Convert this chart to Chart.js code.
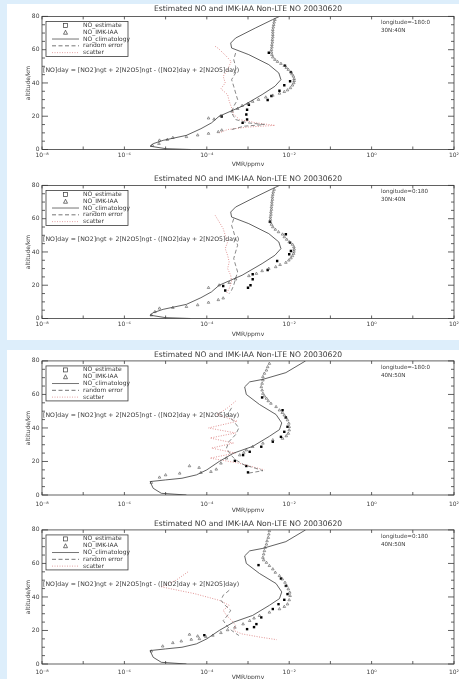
<!DOCTYPE html>
<html>
<head>
<meta charset="utf-8">
<script src="https://cdn.jsdelivr.net/npm/chart.js@4.4.1/dist/chart.umd.min.js"></script>
<style>
  body { margin: 0; width: 459px; height: 679px; overflow: hidden; position: relative; background: #ddeefb; }
  .sheet { position: absolute; left: 7px; width: 452px; background: #fff; }
  .box { position: absolute; left: 7px; width: 452px; }
</style>
</head>
<body>
<div class="sheet" style="top:4px;height:336px"></div>
<div class="sheet" style="top:350px;height:329px"></div>
<div class="box" id="b0" style="top:4px;height:166px"><canvas id="c0"></canvas></div>
<div class="box" id="b1" style="top:174px;height:166px"><canvas id="c1"></canvas></div>
<div class="box" id="b2" style="top:350px;height:168px"><canvas id="c2"></canvas></div>
<div class="box" id="b3" style="top:518px;height:161px"><canvas id="c3"></canvas></div>
<script>
// ---- texts ----
const titleText = "Estimated NO and IMK-IAA Non-LTE NO 20030620";
const equationText = "[NO]day = [NO2]ngt + 2[N2O5]ngt - ([NO2]day + 2[N2O5]day)";
const legendLabels = ["NO_estimate", "NO_IMK-IAA", "NO_climatology", "random error", "scatter"];
const longitudeLabels = ["longitude=-180:0", "longitude=0:180", "longitude=-180:0", "longitude=0:180"];
const latitudeLabels = ["30N:40N", "30N:40N", "40N:50N", "40N:50N"];

// ---- ticks ----
const xTickValues = [1e-8, 1e-7, 1e-6, 1e-5, 1e-4, 1e-3, 1e-2, 1e-1, 1e0, 1e1, 1e2];
const xTickLabels = ["10⁻⁸", "", "10⁻⁶", "", "10⁻⁴", "", "10⁻²", "", "10⁰", "", "10²"];
const yTickLabels = ["0", "20", "40", "60", "80"];

// ---- climatology (ppmv) ----
const climAlt30 = [0, 0.5, 2, 3.5, 5.5, 8.5, 12.5, 16, 20, 26, 33, 38, 42, 46, 51, 57, 61, 64, 67, 73, 78, 80];
const climVmr30 = [4.0e-5, 1.0e-5, 4.2e-6, 5.0e-6, 8.7e-6, 3.2e-5, 7.2e-5, 1.3e-4, 2.0e-4, 7.2e-4, 2.2e-3, 4.5e-3, 6.3e-3, 5.6e-3, 3.2e-3, 1.05e-3, 4.0e-4, 3.8e-4, 5.0e-4, 1.5e-3, 3.9e-3, 5.8e-3];
const climAlt40 = [0, 1, 4, 8, 9, 10, 12, 15, 20, 25, 29, 35, 39, 43, 48, 54, 60, 64.5, 67.5, 69, 73, 80];
const climVmr40 = [3.2e-5, 7.9e-6, 5.0e-6, 4.2e-6, 1.0e-5, 2.5e-5, 5.6e-5, 1.0e-4, 2.0e-4, 4.5e-4, 1.3e-3, 3.3e-3, 5.8e-3, 6.6e-3, 4.8e-3, 1.9e-3, 9.1e-4, 8.3e-4, 1.1e-3, 2.3e-3, 8.3e-3, 2.5e-2];

// ---- panel 1: 30N:40N, lon -180:0 ----
const imkAlt1 = [2.4, 3.5, 5.5, 5.9, 7.1, 7.6, 8.6, 9.6, 10.6, 11.6, 18.2, 18.8, 20.2, 22.9, 24.5, 26.3, 27.5, 28.8, 30, 31.4, 32.5, 33.7, 34.7, 35.7, 37, 38.6, 40, 41.3, 42.5, 44, 45.3, 46.5, 48, 49.2, 50.4, 51.6, 52.8, 54, 55.5, 57, 58.5, 60, 61.5, 63, 64.5, 66, 67.5, 69, 70.5, 72, 73.5, 75, 76.5, 78];
const imkVmr1 = [4.8e-6, 6.9e-6, 7.1e-6, 1.1e-5, 1.5e-5, 3.2e-5, 6.0e-5, 1.1e-4, 1.9e-4, 2.3e-4, 1.5e-4, 1.1e-4, 2.2e-4, 4.1e-4, 5.6e-4, 7.2e-4, 1.0e-3, 1.3e-3, 1.8e-3, 2.7e-3, 4.0e-3, 5.8e-3, 7.6e-3, 9.1e-3, 1.07e-2, 1.2e-2, 1.29e-2, 1.32e-2, 1.32e-2, 1.26e-2, 1.17e-2, 1.1e-2, 9.5e-3, 8.5e-3, 7.6e-3, 6.3e-3, 5.2e-3, 4.5e-3, 4.0e-3, 3.8e-3, 3.7e-3, 3.7e-3, 3.8e-3, 3.8e-3, 3.9e-3, 3.9e-3, 4.0e-3, 4.0e-3, 4.0e-3, 4.0e-3, 4.1e-3, 4.2e-3, 4.3e-3, 4.5e-3];
const estAlt1 = [16, 18, 19.8, 21, 23.9, 26.9, 29.8, 32.2, 35.3, 38.6, 41, 46.5, 50.4, 58.2];
const estVmr1 = [7.4e-4, 9.5e-4, 2.3e-4, 9.1e-4, 9.5e-4, 1.05e-3, 3.0e-3, 3.7e-3, 5.8e-3, 7.6e-3, 1.05e-2, 1.1e-2, 7.9e-3, 3.2e-3];
const errAlt1 = [58, 54, 50, 46, 42, 38, 34, 30, 26, 22, 18, 16, 15, 14, 12];
const errVmr1 = [5.0e-4, 4.5e-4, 5.0e-4, 5.0e-4, 4.0e-4, 4.5e-4, 5.0e-4, 5.6e-4, 4.5e-4, 4.0e-4, 5.0e-4, 1.0e-3, 2.5e-3, 8.0e-4, 4.0e-4];
const scatAlt1 = [62, 60.8, 56, 52.9, 48, 44, 40, 36.5, 33, 29, 25, 21, 18, 16, 14.5, 13.5, 12, 10];
const scatVmr1 = [1.6e-4, 1.9e-4, 3.0e-4, 3.9e-4, 3.2e-4, 2.5e-4, 2.8e-4, 2.2e-4, 3.2e-4, 3.5e-4, 4.0e-4, 4.5e-4, 6.3e-4, 1.6e-3, 4.5e-3, 1.0e-3, 3.2e-4, 2.0e-4];

// ---- panel 2: 30N:40N, lon 0:180 ----
const imkAlt2 = [2.0, 4.0, 6.1, 6.5, 7.1, 8.1, 9.6, 11.2, 12.2, 18.5, 20, 21.5, 23.6, 25.6, 27, 28.6, 30, 31, 32.3, 33.6, 35, 36.3, 37.6, 39, 40.3, 41.6, 43, 44.5, 46, 47.5, 49, 50.6, 52, 53.5, 55, 56.5, 58, 59.5, 61, 62.5, 64, 65.5, 67, 68.5, 70, 71.5, 73, 74.5, 76, 77.5];
const imkVmr2 = [4.5e-6, 5.5e-6, 7.1e-6, 1.5e-5, 3.2e-5, 6.0e-5, 1.1e-4, 1.9e-4, 2.5e-4, 1.1e-4, 2.0e-4, 3.5e-4, 5.0e-4, 1.05e-3, 1.6e-3, 2.2e-3, 3.2e-3, 4.7e-3, 6.0e-3, 8.3e-3, 9.8e-3, 1.1e-2, 1.2e-2, 1.28e-2, 1.3e-2, 1.32e-2, 1.3e-2, 1.2e-2, 1.0e-2, 8.7e-3, 7.6e-3, 6.9e-3, 5.5e-3, 4.6e-3, 4.0e-3, 3.7e-3, 3.5e-3, 3.5e-3, 3.5e-3, 3.6e-3, 3.6e-3, 3.7e-3, 3.7e-3, 3.8e-3, 3.8e-3, 3.9e-3, 3.9e-3, 4.0e-3, 4.1e-3, 4.3e-3];
const estAlt2 = [16.8, 18.5, 19.5, 20, 23.6, 26.6, 29.2, 34.6, 38.6, 40.6, 45.6, 50.6, 58.2];
const estVmr2 = [2.8e-4, 1.0e-3, 2.5e-4, 1.15e-3, 1.3e-3, 1.3e-3, 3.0e-3, 5.1e-3, 1.0e-2, 1.1e-2, 1.05e-2, 8.3e-3, 3.4e-3];
const errAlt2 = [60, 56, 52, 48, 44, 40, 36, 32, 28, 24, 20, 17, 15];
const errVmr2 = [4.5e-4, 4.0e-4, 4.5e-4, 5.0e-4, 5.6e-4, 5.0e-4, 4.5e-4, 5.0e-4, 5.6e-4, 5.0e-4, 4.5e-4, 4.0e-4, 3.5e-4];
const scatAlt2 = [62, 58, 54, 50, 46, 42, 38, 34, 30, 26, 22, 18, 15];
const scatVmr2 = [1.6e-4, 2.0e-4, 2.5e-4, 2.8e-4, 3.2e-4, 2.8e-4, 3.2e-4, 3.5e-4, 3.2e-4, 3.8e-4, 4.0e-4, 3.5e-4, 3.0e-4];

// ---- panel 3: 40N:50N, lon -180:0 ----
const imkAlt3 = [7.4, 10.5, 11.9, 12.9, 13.3, 13.9, 15.3, 16.3, 17.3, 18.9, 21.9, 23.8, 25.3, 26.8, 28.8, 30.8, 32.8, 33.7, 35.2, 36.7, 38.7, 40.7, 42.7, 44.7, 46.2, 47.6, 49.1, 50.6, 52.6, 54.6, 56.1, 57.6, 59, 60.5, 62.5, 64.5, 66.5, 68.5, 70.5, 72.5, 74.4, 76.4, 78.4];
const imkVmr3 = [4.5e-6, 7.1e-6, 1.0e-5, 2.2e-5, 7.2e-5, 1.26e-4, 1.7e-4, 6.5e-5, 3.8e-5, 2.2e-4, 3.0e-4, 6.3e-4, 7.9e-4, 9.1e-4, 1.3e-3, 2.3e-3, 4.0e-3, 6.9e-3, 8.5e-3, 9.5e-3, 1.0e-2, 1.0e-2, 9.8e-3, 9.1e-3, 8.3e-3, 7.6e-3, 6.8e-3, 5.8e-3, 4.8e-3, 3.6e-3, 3.1e-3, 2.8e-3, 2.5e-3, 2.3e-3, 2.2e-3, 2.1e-3, 2.2e-3, 2.3e-3, 2.3e-3, 2.5e-3, 2.8e-3, 3.0e-3, 3.3e-3];
const estAlt3 = [13.5, 17.3, 20.4, 23.8, 25.8, 28.8, 31.8, 34.7, 37.7, 40.7, 46.3, 50.6, 58.2];
const estVmr3 = [1.0e-3, 9.1e-4, 4.8e-4, 7.6e-4, 1.1e-3, 2.1e-3, 4.0e-3, 6.3e-3, 7.6e-3, 9.1e-3, 8.3e-3, 6.9e-3, 2.2e-3];
const errAlt3 = [52, 48, 44, 40, 36, 32, 28, 24, 21, 18, 16, 14.5, 13];
const errVmr3 = [4.0e-4, 3.2e-4, 4.5e-4, 6.0e-4, 5.0e-4, 3.5e-4, 3.0e-4, 3.8e-4, 5.0e-4, 8.0e-4, 1.5e-3, 2.3e-3, 1.0e-3];
const scatAlt3 = [56, 52, 48, 44, 40, 37, 34, 31, 28, 25, 22, 19, 17, 15];
const scatVmr3 = [5.0e-4, 3.2e-4, 1.8e-4, 5.5e-4, 1.1e-4, 5.0e-4, 1.2e-4, 4.5e-4, 1.3e-4, 5.0e-4, 1.2e-4, 6.0e-4, 1.2e-3, 2.5e-3];

// ---- panel 4: 40N:50N, lon 0:180 ----
const imkAlt4 = [7.6, 10.6, 12.6, 13.6, 14.6, 15, 16.2, 16.6, 17, 17.6, 18.6, 20.3, 21.8, 23.8, 25.8, 27.3, 28.8, 30.8, 32.8, 34.2, 35.7, 38.2, 40.7, 42.7, 44.7, 46.7, 48.6, 50.6, 52.6, 54.6, 56.6, 58.6, 60.5, 62, 63.5, 65.5, 67.5, 69.5, 71.4, 73.4, 75.4, 77.4, 79.4];
const imkVmr4 = [4.5e-6, 8.5e-6, 1.5e-5, 2.4e-5, 4.2e-5, 6.6e-5, 9.5e-5, 6.0e-5, 1.4e-4, 3.8e-5, 2.2e-4, 3.2e-4, 4.8e-4, 7.6e-4, 1.1e-3, 1.4e-3, 1.9e-3, 3.3e-3, 5.8e-3, 7.6e-3, 9.1e-3, 1.0e-2, 1.05e-2, 1.03e-2, 9.5e-3, 8.7e-3, 7.9e-3, 6.8e-3, 5.8e-3, 4.6e-3, 4.0e-3, 3.3e-3, 2.8e-3, 2.4e-3, 2.3e-3, 2.4e-3, 2.5e-3, 2.6e-3, 2.8e-3, 2.9e-3, 3.1e-3, 3.2e-3, 3.3e-3];
const estAlt4 = [17.2, 20.8, 22, 23.8, 27.8, 32.8, 35.7, 38.3, 41.7, 46.6, 51, 59];
const estVmr4 = [8.7e-5, 9.5e-4, 1.4e-3, 1.6e-3, 2.1e-3, 4.0e-3, 5.5e-3, 7.6e-3, 9.1e-3, 8.3e-3, 6.3e-3, 1.8e-3];
const errAlt4 = [44, 41, 38, 35, 32, 29, 26, 23, 20, 17];
const errVmr4 = [3.5e-4, 2.5e-4, 2.2e-4, 2.8e-4, 3.8e-4, 3.2e-4, 2.5e-4, 3.0e-4, 4.0e-4, 6.0e-4];
const scatAlt4 = [55, 50, 46, 42, 38, 35, 32, 29, 26, 23, 20, 18, 16, 14.5];
const scatVmr4 = [3.5e-5, 1.8e-5, 8.0e-6, 5.0e-5, 2.0e-4, 3.5e-4, 2.5e-4, 3.0e-4, 4.0e-4, 5.0e-4, 4.5e-4, 7.0e-4, 2.0e-3, 5.0e-3];

// ---- panel frames (canvas px) ----
const panels = [
  { id: "c0", H: 166, top: 12.5, bottom: 145.5, titleY: 5, tickY: 151.5, vmrY: 160,
    est: [estAlt1, estVmr1], imk: [imkAlt1, imkVmr1], clim: [climAlt30, climVmr30], err: [errAlt1, errVmr1], scat: [scatAlt1, scatVmr1] },
  { id: "c1", H: 166, top: 11.5, bottom: 144.5, titleY: 5, tickY: 150, vmrY: 160,
    est: [estAlt2, estVmr2], imk: [imkAlt2, imkVmr2], clim: [climAlt30, climVmr30], err: [errAlt2, errVmr2], scat: [scatAlt2, scatVmr2] },
  { id: "c2", H: 168, top: 11, bottom: 145, titleY: 5, tickY: 154, vmrY: 160,
    est: [estAlt3, estVmr3], imk: [imkAlt3, imkVmr3], clim: [climAlt40, climVmr40], err: [errAlt3, errVmr3], scat: [scatAlt3, scatVmr3] },
  { id: "c3", H: 161, top: 12, bottom: 146, titleY: 6, tickY: 154, vmrY: 159,
    est: [estAlt4, estVmr4], imk: [imkAlt4, imkVmr4], clim: [climAlt40, climVmr40], err: [errAlt4, errVmr4], scat: [scatAlt4, scatVmr4] },
];

const FONT = "DejaVu Sans";
const INK = "#3a3a3a";
const RED = "#d97a7a";

function pts(alt, vmr) {
  return alt.map((a, i) => ({ x: vmr[i], y: a }));
}

// 框线、内向刻度、图例、标注
const panelDecor = {
  id: "panelDecor",
  afterDatasetsDraw(chart, args, opts) {
    const { ctx, chartArea: a, scales: { x, y } } = chart;
    ctx.save();
    ctx.strokeStyle = INK;
    ctx.lineWidth = 0.8;
    ctx.strokeRect(a.left, a.top, a.right - a.left, a.bottom - a.top);
    ctx.beginPath();
    x.ticks.forEach((t) => {
      const px = x.getPixelForValue(t.value);
      ctx.moveTo(px, a.bottom); ctx.lineTo(px, a.bottom - 3);
      ctx.moveTo(px, a.top); ctx.lineTo(px, a.top + 3);
    });
    y.ticks.forEach((t) => {
      const py = y.getPixelForValue(t.value);
      const len = t.value % 20 === 0 ? 6 : 3;
      ctx.moveTo(a.left, py); ctx.lineTo(a.left + len, py);
      ctx.moveTo(a.right, py); ctx.lineTo(a.right - len, py);
    });
    ctx.stroke();

    // legend box
    const lx = a.left + 4, ly = a.top + 5, lw = 82, lh = 35;
    ctx.fillStyle = "#fff";
    ctx.fillRect(lx, ly, lw, lh);
    ctx.strokeRect(lx, ly, lw, lh);
    ctx.font = "6px " + FONT;
    ctx.textBaseline = "middle";
    ctx.textAlign = "left";
    legendLabels.forEach((lab, i) => {
      const ry = ly + 4 + i * 6.8;
      ctx.fillStyle = INK;
      ctx.fillText(lab, lx + 37, ry);
      ctx.lineWidth = 0.7;
      ctx.strokeStyle = INK;
      ctx.setLineDash([]);
      if (i === 0) {
        ctx.strokeRect(lx + 17.5, ry - 2, 4, 4);
      } else if (i === 1) {
        ctx.beginPath();
        ctx.moveTo(lx + 17.5, ry + 2); ctx.lineTo(lx + 19.5, ry - 2); ctx.lineTo(lx + 21.5, ry + 2); ctx.closePath();
        ctx.stroke();
      } else {
        if (i === 3) ctx.setLineDash([4, 2.5]);
        if (i === 4) { ctx.setLineDash([1, 1.5]); ctx.strokeStyle = RED; }
        ctx.beginPath();
        ctx.moveTo(lx + 6, ry); ctx.lineTo(lx + 33, ry);
        ctx.stroke();
      }
    });
    ctx.setLineDash([]);

    // equation and region labels
    ctx.fillStyle = INK;
    ctx.font = "6.2px " + FONT;
    ctx.fillText(equationText, a.left + 1, a.top + 54);
    ctx.font = "5.6px " + FONT;
    ctx.fillText(opts.lon, a.left + 339, a.top + 6.5);
    ctx.fillText(opts.lat, a.left + 339, a.top + 14.5);
    ctx.restore();
  },
};

Chart.defaults.font.family = FONT;
Chart.defaults.font.size = 6;
Chart.defaults.color = INK;
Chart.defaults.animation = false;

panels.forEach((p, k) => {
  const datasets = [
    { label: legendLabels[2], data: pts(p.clim[0], p.clim[1]), showLine: true, borderColor: INK, borderWidth: 0.8, pointRadius: 0 },
    { label: legendLabels[3], data: pts(p.err[0], p.err[1]), showLine: true, borderColor: "#555", borderWidth: 0.7, borderDash: [4, 2.5], pointRadius: 0 },
    { label: legendLabels[4], data: pts(p.scat[0], p.scat[1]), showLine: true, borderColor: RED, borderWidth: 0.8, borderDash: [1, 1.5], pointRadius: 0 },
    { label: legendLabels[1], data: pts(p.imk[0], p.imk[1]), showLine: false, pointStyle: "triangle", pointRadius: 1.5, borderColor: "#555", borderWidth: 0.6, backgroundColor: "rgba(0,0,0,0)" },
    { label: legendLabels[0], data: pts(p.est[0], p.est[1]), showLine: false, pointStyle: "rect", pointRadius: 1.7, borderColor: "#000", borderWidth: 0, backgroundColor: "#000" },
  ];
  const lh = 6 * 1.2;
  new Chart(document.getElementById(p.id), {
    type: "scatter",
    data: { datasets },
    options: {
      responsive: true,
      maintainAspectRatio: false,
      layout: { padding: { left: 0, right: 5, top: 0, bottom: 0 } },
      plugins: {
        legend: { display: false },
        tooltip: { enabled: false },
        title: {
          display: true,
          text: titleText,
          fullSize: false,
          color: INK,
          font: { size: 7.6, weight: "normal" },
          padding: { top: p.titleY - 4.6, bottom: p.top - p.titleY - 4.6 },
        },
        panelDecor: { lon: longitudeLabels[k], lat: latitudeLabels[k] },
      },
      scales: {
        x: {
          type: "logarithmic",
          min: 1e-8,
          max: 1e2,
          grid: { display: false, drawTicks: false },
          border: { display: false },
          afterBuildTicks: (s) => { s.ticks = xTickValues.map((v) => ({ value: v })); },
          ticks: {
            autoSkip: false,
            maxRotation: 0,
            padding: p.tickY - p.bottom - lh / 2,
            callback: (v, i) => xTickLabels[i],
          },
          title: { display: true, text: "VMR/ppmv", padding: { top: 0, bottom: p.H - p.vmrY - lh / 2 } },
          afterFit: (s) => { s.height = p.H - p.bottom; s.paddingLeft = 0; s.paddingRight = 0; },
        },
        y: {
          min: 0,
          max: 80,
          grid: { display: false, drawTicks: false },
          border: { display: false },
          ticks: {
            stepSize: 5,
            autoSkip: false,
            padding: 2.5,
            callback: (v) => (v % 20 === 0 ? yTickLabels[v / 20] : ""),
          },
          title: { display: true, text: "altitude/km", padding: { top: 18, bottom: 0 } },
          afterFit: (s) => { s.width = 35; s.paddingTop = 0; s.paddingBottom = 0; },
        },
      },
    },
    plugins: [panelDecor],
  });
});
</script>
</body>
</html>
